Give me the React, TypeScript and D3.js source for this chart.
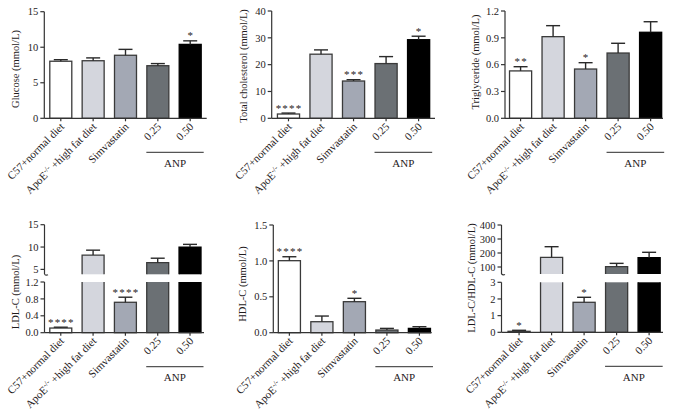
import React from "react";
import * as d3 from "d3";

// ---------- data ----------
const groups = ["C57+normal diet", "ApoE-/- +high fat diet", "Simvastatin", "0.25", "0.50"];
const anpLabel = "ANP";
const barColors = ["#ffffff", "#d4d6dd", "#a3a8b4", "#6b7074", "#000000"];

const glucoseMean = [8.03, 8.1, 8.87, 7.4, 10.4];
const glucoseErr = [0.22, 0.4, 0.83, 0.3, 0.5];
const glucoseStars = ["", "", "", "", "*"];
const glucoseTicks = [0, 5, 10, 15];

const cholMean = [1.6, 23.9, 13.9, 20.4, 29.3];
const cholErr = [0.35, 1.6, 0.5, 2.6, 1.3];
const cholStars = ["****", "", "***", "", "*"];
const cholTicks = [0, 10, 20, 30, 40];

const trigMean = [0.53, 0.913, 0.551, 0.73, 0.962];
const trigErr = [0.047, 0.123, 0.071, 0.109, 0.118];
const trigStars = ["**", "", "*", "", ""];
const trigTicks = [0, 0.3, 0.6, 0.9, 1.2];

const ldlMean = [0.11, 8.2, 0.72, 6.5, 10.0];
const ldlErr = [0.02, 1.1, 0.12, 1.0, 0.6];
const ldlStars = ["****", "", "****", "", ""];
const ldlLowTicks = [0, 0.4, 0.8, 1.2];
const ldlHighTicks = [5, 10, 15];
const ldlHighDomain = [3.9, 15];

const hdlMean = [1.003, 0.153, 0.432, 0.037, 0.06];
const hdlErr = [0.055, 0.079, 0.047, 0.023, 0.024];
const hdlStars = ["****", "", "*", "", ""];
const hdlTicks = [0, 0.5, 1.0, 1.5];

const ratioMean = [0.06, 169, 1.8, 102, 166];
const ratioErr = [0.06, 76, 0.3, 24, 39];
const ratioStars = ["*", "", "*", "", ""];
const ratioLowTicks = [0, 1, 2, 3];
const ratioHighTicks = [100, 200, 300, 400];
const ratioHighDomain = [50, 400];

// ---------- layout ----------
type Layout = {
  axisX: number; axisEnd: number; bandL: number; bandR: number;
  yBottom: number; yTop: number; yLowTop: number; yHighBottom: number;
  titleX: number; titleY: number;
};

const panels = [
  {
    title: "Glucose (mmol/L)", mean: glucoseMean, err: glucoseErr, stars: glucoseStars,
    ticks: glucoseTicks, fmt: d3.format("d"), highTicks: null, highDomain: null, highFmt: null,
    layout: { axisX: 44.3, axisEnd: 206.7, bandL: 44.3, bandR: 206.7, yBottom: 118.3, yTop: 11.7, yLowTop: 11.7, yHighBottom: 0, titleX: 19, titleY: 69 },
  },
  {
    title: "Total cholesterol (mmol/L)", mean: cholMean, err: cholErr, stars: cholStars,
    ticks: cholTicks, fmt: d3.format("d"), highTicks: null, highDomain: null, highFmt: null,
    layout: { axisX: 271.7, axisEnd: 435, bandL: 271.9, bandR: 435.2, yBottom: 118.3, yTop: 11, yLowTop: 11, yHighBottom: 0, titleX: 247, titleY: 66 },
  },
  {
    title: "Triglyceride (mmol/L)", mean: trigMean, err: trigErr, stars: trigStars,
    ticks: trigTicks, fmt: d3.format(".1f"), highTicks: null, highDomain: null, highFmt: null,
    layout: { axisX: 505, axisEnd: 663, bandL: 504, bandR: 667.2, yBottom: 118.3, yTop: 11, yLowTop: 11, yHighBottom: 0, titleX: 478.5, titleY: 62 },
  },
  {
    title: "LDL-C (mmol/L)", mean: ldlMean, err: ldlErr, stars: ldlStars,
    ticks: ldlLowTicks, fmt: d3.format(".1f"), highTicks: ldlHighTicks, highDomain: ldlHighDomain, highFmt: d3.format("d"),
    layout: { axisX: 44.5, axisEnd: 204, bandL: 44.3, bandR: 206.5, yBottom: 332.7, yTop: 224.7, yLowTop: 282, yHighBottom: 274.3, titleX: 18.5, titleY: 292 },
  },
  {
    title: "HDL-C (mmol/L)", mean: hdlMean, err: hdlErr, stars: hdlStars,
    ticks: hdlTicks, fmt: d3.format(".1f"), highTicks: null, highDomain: null, highFmt: null,
    layout: { axisX: 273.3, axisEnd: 431.7, bandL: 272.8, bandR: 436, yBottom: 332.7, yTop: 225, yLowTop: 225, yHighBottom: 0, titleX: 245.5, titleY: 284 },
  },
  {
    title: "LDL-C/HDL-C (mmol/L)", mean: ratioMean, err: ratioErr, stars: ratioStars,
    ticks: ratioLowTicks, fmt: d3.format("d"), highTicks: ratioHighTicks, highDomain: ratioHighDomain, highFmt: d3.format("d"),
    layout: { axisX: 501.5, axisEnd: 663, bandL: 502.5, bandR: 665.7, yBottom: 332.3, yTop: 225, yLowTop: 282.3, yHighBottom: 274, titleX: 475, titleY: 278 },
  },
];

const FONT = "'Liberation Serif', 'DejaVu Serif', serif";
const TEXT = "#1f1b1c";
const AXIS = "#333";

function XLabel({ name, x, y }: { name: string; x: number; y: number }) {
  const tr = `translate(${x},${y}) rotate(-45)`;
  if (name.includes("-/-")) {
    const [a, b] = name.split("-/-");
    return (
      <text transform={tr} textAnchor="end" fontSize={11} fill={TEXT} fontFamily={FONT}>
        <tspan>{a}</tspan>
        <tspan dy={-4} fontSize={7.5}>-/-</tspan>
        <tspan dy={4}>{b}</tspan>
      </text>
    );
  }
  return (
    <text transform={tr} textAnchor="end" fontSize={11} fill={TEXT} fontFamily={FONT}>
      {name}
    </text>
  );
}

function Panel({ p }: { p: any }) {
  const L: Layout = p.layout;
  const x = d3.scaleBand<string>().domain(groups).range([L.bandL, L.bandR]).paddingInner(0.32).paddingOuter(0.17);
  const lowMax = p.ticks[p.ticks.length - 1];
  const yLow = d3.scaleLinear().domain([0, lowMax]).range([L.yBottom, L.yLowTop]);
  const yHigh = p.highDomain ? d3.scaleLinear().domain(p.highDomain).range([L.yHighBottom, L.yTop]) : null;
  const w = x.bandwidth();
  const yOf = (v: number) => (yHigh && v > lowMax ? yHigh(v) : yLow(v));

  const bars: any[] = [];
  groups.forEach((g, i) => {
    const v = p.mean[i];
    const e = p.err[i];
    const x0 = x(g)!;
    const cx = x0 + w / 2;
    const fill = barColors[i];
    const stroke = i === 4 ? "#000" : "#3a3a3a";
    const topY = yOf(v);
    const errY = yOf(v + e);
    if (!yHigh || v <= lowMax) {
      bars.push(
        <rect key={`b${i}`} x={x0} y={topY} width={w} height={L.yBottom - topY} fill={fill} stroke={stroke} strokeWidth={1.3} />
      );
    } else {
      bars.push(
        <g key={`b${i}`}>
          <rect x={x0} y={L.yLowTop} width={w} height={L.yBottom - L.yLowTop} fill={fill} />
          <path d={`M${x0},${L.yLowTop}V${L.yBottom}H${x0 + w}V${L.yLowTop}`} fill="none" stroke={stroke} strokeWidth={1.3} />
          <rect x={x0} y={topY} width={w} height={L.yHighBottom - topY} fill={fill} />
          <path d={`M${x0},${L.yHighBottom}V${topY}H${x0 + w}V${L.yHighBottom}`} fill="none" stroke={stroke} strokeWidth={1.3} />
        </g>
      );
    }
    bars.push(
      <g key={`e${i}`} stroke="#2a2a2a" strokeWidth={1.4}>
        <line x1={cx} x2={cx} y1={topY} y2={errY} />
        <line x1={cx - 7} x2={cx + 7} y1={errY} y2={errY} />
      </g>
    );
    if (p.stars[i]) {
      bars.push(
        <text key={`s${i}`} x={cx + 0.6} y={errY - 1.5} textAnchor="middle" fontSize={11} letterSpacing={1.2} fill={TEXT} fontFamily={FONT}>
          {p.stars[i]}
        </text>
      );
    }
  });

  const yTickEls: any[] = [];
  p.ticks.forEach((t: number) => {
    const yy = yLow(t);
    yTickEls.push(
      <g key={`lt${t}`}>
        <line x1={L.axisX - 4} x2={L.axisX} y1={yy} y2={yy} stroke={AXIS} strokeWidth={1.2} />
        <text x={L.axisX - 6} y={yy} dy="0.35em" textAnchor="end" fontSize={10.5} fill={TEXT} fontFamily={FONT}>{p.fmt(t)}</text>
      </g>
    );
  });
  if (yHigh) {
    p.highTicks.forEach((t: number) => {
      const yy = yHigh(t);
      yTickEls.push(
        <g key={`ht${t}`}>
          <line x1={L.axisX - 4} x2={L.axisX} y1={yy} y2={yy} stroke={AXIS} strokeWidth={1.2} />
          <text x={L.axisX - 6} y={yy} dy="0.35em" textAnchor="end" fontSize={10.5} fill={TEXT} fontFamily={FONT}>{p.highFmt(t)}</text>
        </g>
      );
    });
  }

  const b4 = x(groups[3])!;
  const b5 = x(groups[4])! + w;
  const anpY = L.yBottom + 34;

  return (
    <g>
      {bars}
      {/* y axis */}
      <line x1={L.axisX} x2={L.axisX} y1={L.yLowTop} y2={L.yBottom} stroke={AXIS} strokeWidth={1.2} />
      {yHigh && (
        <g stroke={AXIS} strokeWidth={1.2} fill="none">
          <line x1={L.axisX} x2={L.axisX} y1={L.yTop} y2={L.yHighBottom} />
          <path d={`M${L.axisX},${L.yHighBottom}q1.5,1.5 3.5,0.5`} />
        </g>
      )}
      {yTickEls}
      {/* x axis */}
      <line x1={L.axisX} x2={L.axisEnd} y1={L.yBottom} y2={L.yBottom} stroke={AXIS} strokeWidth={1.2} />
      {groups.map((g) => {
        const cx = x(g)! + w / 2;
        return <line key={`xt${g}`} x1={cx} x2={cx} y1={L.yBottom} y2={L.yBottom + 3} stroke={AXIS} strokeWidth={1.2} />;
      })}
      {groups.map((g) => {
        const cx = x(g)! + w / 2;
        return <XLabel key={`xl${g}`} name={g} x={cx + 4} y={L.yBottom + 9} />;
      })}
      {/* ANP bracket */}
      <line x1={b4 - 0.5} x2={b5 + 2.5} y1={anpY} y2={anpY} stroke="#555" strokeWidth={1.3} />
      <text x={(b4 + b5 + 2) / 2} y={anpY + 14.5} textAnchor="middle" fontSize={11} fill={TEXT} fontFamily={FONT}>{anpLabel}</text>
      {/* y title */}
      <text transform={`translate(${L.titleX},${L.titleY}) rotate(-90)`} textAnchor="middle" fontSize={10.5} fill={TEXT} fontFamily={FONT}>
        {p.title}
      </text>
    </g>
  );
}

export default function App() {
  return (
    <svg width={673} height={419} style={{ position: "absolute", left: 0, top: 0, background: "#fff" }}>
      <rect width={673} height={419} fill="#fff" />
      {panels.map((p, i) => (
        <Panel key={i} p={p} />
      ))}
    </svg>
  );
}
